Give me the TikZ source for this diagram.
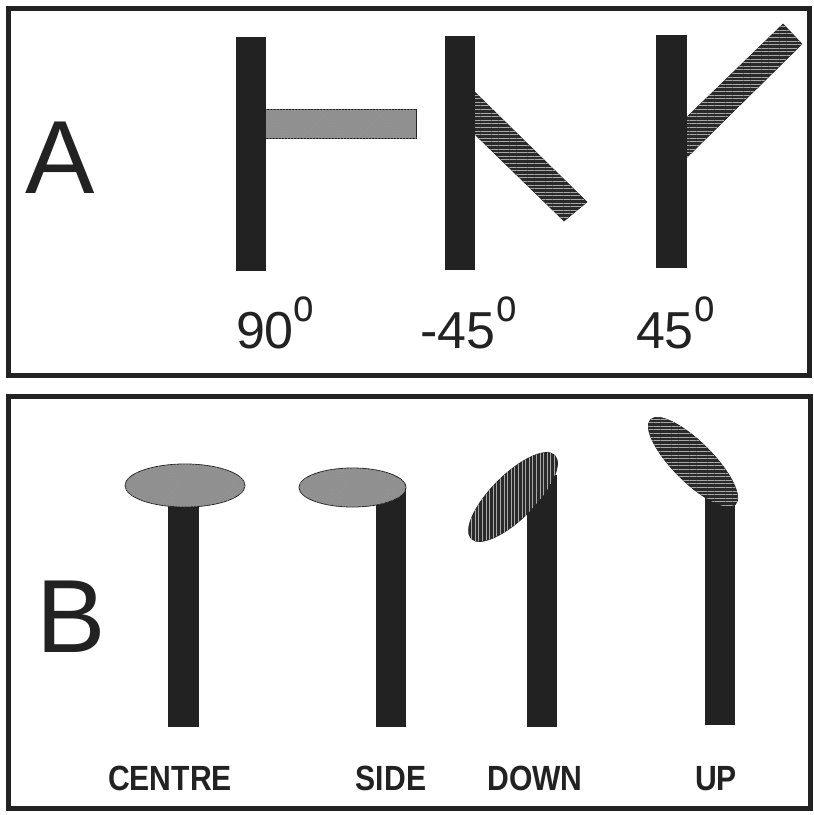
\documentclass[tikz,border=0pt]{standalone}
\usepackage{fontspec}
\setmainfont{Liberation Sans}
\usetikzlibrary{patterns.meta}
\definecolor{ink}{HTML}{222222}
\definecolor{midgray}{HTML}{939393}
\definecolor{hatchdark}{HTML}{2A2A2A}
\definecolor{hatchline}{HTML}{A8A8A8}
\tikzset{
  frame/.style={draw=ink, line width=5pt},
  barshape/.style={fill=ink},
  grayfill/.style={fill=midgray, draw=ink, line width=0.8pt,
    postaction={pattern={Lines[angle=45,distance=2.2pt,line width=0.5pt]}, pattern color=black!45}},
  hhatch/.style={fill=hatchdark, draw=ink, line width=0.6pt,
    postaction={pattern={Lines[angle=0,distance=3.6pt,line width=0.8pt]}, pattern color=hatchline}},
  vhatch/.style={fill=hatchdark, draw=ink, line width=0.6pt,
    postaction={pattern={Lines[angle=90,distance=3.6pt,line width=0.8pt]}, pattern color=hatchline}},
  biglet/.style={font=\fontsize{104}{110}\selectfont, text=ink, inner sep=0pt, anchor=base},
  anglbl/.style={font=\fontsize{52}{56}\selectfont, text=ink, inner sep=0pt, anchor=base},
  supo/.style={font=\fontsize{46}{48}\selectfont, text=ink, inner sep=0pt, xscale=0.8},
  blbl/.style={font=\bfseries\fontsize{35}{38}\selectfont, text=ink, inner sep=0pt, anchor=base, xscale=0.86},
}
\begin{document}
\begin{tikzpicture}[x=1pt,y=-1pt]
\useasboundingbox[fill=white] (0,0) rectangle (814,815);
% frames
\draw[frame] (8,8) rectangle (809,375);
\draw[frame] (8,396) rectangle (810,808);
% ---------- Panel A ----------
\node[biglet] (la) at (60.5,193) {A};
% 90
\draw[grayfill] (250,109) rectangle (416,138);
\fill[barshape] (236,37) rectangle (266,271);
% -45
\draw[hhatch] (460,77.6) -- (587,202) -- (564,221) -- (460,119.9) -- cycle;
\fill[barshape] (445,36) rectangle (475,270);
% 45
\draw[hhatch] (670,133.5) -- (783,24) -- (802,44) -- (670,174) -- cycle;
\fill[barshape] (656,35) rectangle (687,268);
% labels
\node[anglbl] (t90) at (265,348) {90};
\node[supo] (o90) at (303.5,309.5) {o};
\node[anglbl] (tm45) at (458,348) {-45};
\node[supo] (om45) at (506.5,309.5) {o};
\node[anglbl] (t45) at (665,348) {45};
\node[supo] (o45) at (705,309.5) {o};
% ---------- Panel B ----------
\node[biglet] (lb) at (71.5,652) {B};
% centre
\fill[barshape] (168,495) rectangle (199,727);
\draw[grayfill] (185,485.5) ellipse [x radius=60pt, y radius=21.5pt];
% side
\fill[barshape] (376,484) rectangle (406,727);
\draw[grayfill] (352.5,487.5) ellipse [x radius=53.5pt, y radius=19.5pt];
% down
\fill[barshape] (527,475) rectangle (557,727);
\draw[vhatch] (513,497) ellipse [x radius=59pt, y radius=22pt, rotate=45];
% up
\fill[barshape] (705,495) rectangle (735,725);
\draw[hhatch] (693,462) ellipse [x radius=60pt, y radius=20pt, rotate=-45];
% labels
\node[blbl] (lcentre) at (170,790) {CENTRE};
\node[blbl] (lside) at (391,790) {SIDE};
\node[blbl] (ldown) at (535,790) {DOWN};
\node[blbl] (lup) at (716,790) {UP};
\end{tikzpicture}
\end{document}
